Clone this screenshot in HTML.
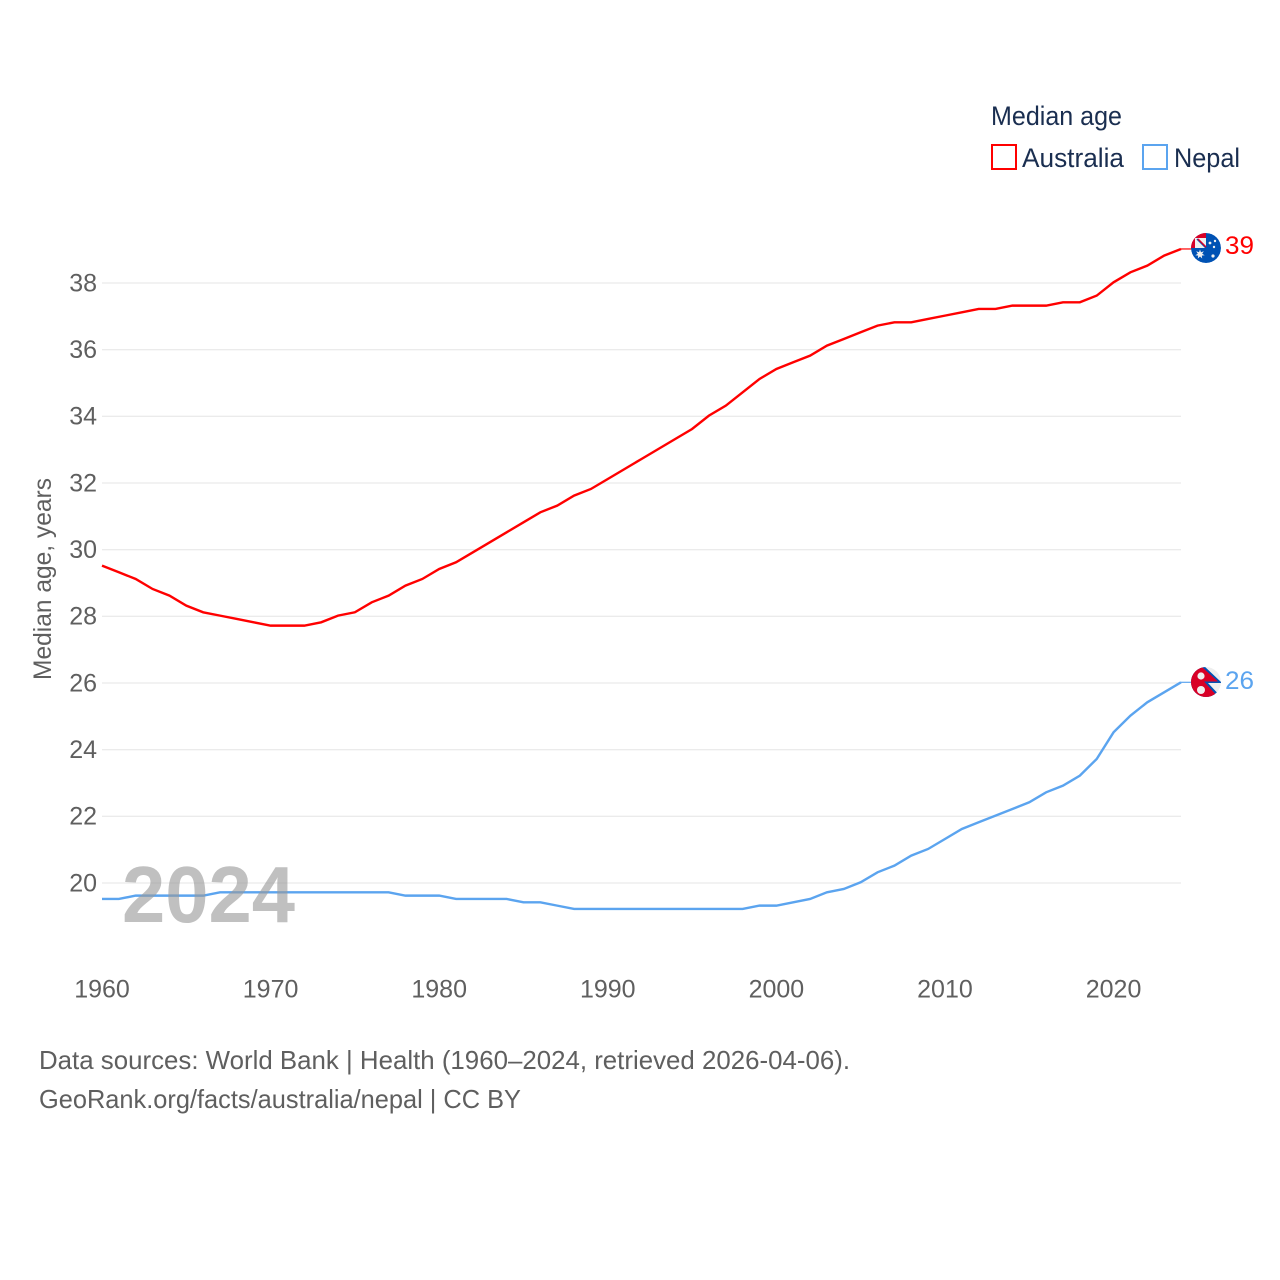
<!DOCTYPE html>
<html lang="en">
<head>
<meta charset="utf-8">
<title>Median age: Australia and Nepal</title>
<style>
html,body{margin:0;padding:0;background:#fff;width:1280px;height:1280px;overflow:hidden}
svg{display:block}
text{font-family:"Liberation Sans",sans-serif}
</style>
</head>
<body>
<svg id="chart" width="1280" height="1280" viewBox="0 0 1280 1280" xmlns="http://www.w3.org/2000/svg">
<defs>
<clipPath id="flag-clip-au"><circle cx="1206" cy="248" r="15"/></clipPath>
<clipPath id="flag-clip-np"><circle cx="1206" cy="682" r="15"/></clipPath>
</defs>
<rect width="1280" height="1280" fill="#fff"/>
<g id="grid"></g>
<g id="yticks"></g>
<g id="xticks"></g>
<text transform="translate(51,680) rotate(-90)" font-size="25" fill="#5f5f5f" textLength="202" lengthAdjust="spacingAndGlyphs">Median age, years</text>
<g id="series" transform="translate(0,-0.7)"></g>
<text x="122" y="922" font-size="80" font-weight="700" fill="#999" fill-opacity="0.62" textLength="173" lengthAdjust="spacingAndGlyphs">2024</text>

<g>
<text x="991" y="125" font-size="27" fill="#1a2e50" textLength="131" lengthAdjust="spacingAndGlyphs">Median age</text>
<rect x="992" y="145" width="24" height="24" fill="none" stroke="#ff0000" stroke-width="2"/>
<text x="1022" y="167" font-size="27" fill="#1a2e50" textLength="102" lengthAdjust="spacingAndGlyphs">Australia</text>
<rect x="1143" y="145" width="24" height="24" fill="none" stroke="#5ba4ef" stroke-width="2"/>
<text x="1174" y="167" font-size="27" fill="#1a2e50" textLength="66" lengthAdjust="spacingAndGlyphs">Nepal</text>
</g>

<g clip-path="url(#flag-clip-au)">
<circle cx="1206" cy="248" r="15" fill="#0052b4"/>
<rect x="1191" y="233" width="15" height="15" fill="#d80027"/>
<rect x="1195" y="238" width="11" height="10" fill="#f0f0f0"/>
<path d="M1197 239L1206 248" stroke="#0052b4" stroke-width="1.5"/>
<path d="M1198 239L1206 247" stroke="#d80027" stroke-width="1.5"/>
<path d="M1200 246.5l1 2.7 2.8-.9-1.6 2.5 2.5 1.5-2.9.3.4 2.9-2.2-2-2.2 2 .4-2.9-2.9-.3 2.5-1.5-1.6-2.5 2.8.9z" fill="#f0f0f0" transform="translate(0,3)"/>
<circle cx="1210" cy="243" r="1.4" fill="#f0f0f0"/>
<circle cx="1215" cy="241" r="1.2" fill="#f0f0f0"/>
<circle cx="1214" cy="247" r="1.2" fill="#f0f0f0"/>
<circle cx="1213" cy="256" r="1.6" fill="#f0f0f0"/>
</g>
<g clip-path="url(#flag-clip-np)">
<circle cx="1206" cy="682" r="15" fill="#eeeeee"/>
<path d="M1203 665L1222 683L1208 683L1223 699L1188 699L1188 665Z" fill="#0052b4"/>
<path d="M1202 667L1218 681.5L1204 681.5L1219 698L1188 698L1188 667Z" fill="#d80027"/>
<circle cx="1201" cy="676" r="3.6" fill="#f0f0f0"/>
<circle cx="1201" cy="690" r="4" fill="#f0f0f0"/>
</g>

<text x="1225" y="254" font-size="25" fill="#ff0000" textLength="29" lengthAdjust="spacingAndGlyphs">39</text>
<text x="1225" y="689" font-size="25" fill="#5ba4ef" textLength="29" lengthAdjust="spacingAndGlyphs">26</text>

<text x="39" y="1069" font-size="26" fill="#5f5f5f" textLength="811" lengthAdjust="spacingAndGlyphs">Data sources: World Bank | Health (1960–2024, retrieved 2026-04-06).</text>
<text x="39" y="1108" font-size="26" fill="#5f5f5f" textLength="482" lengthAdjust="spacingAndGlyphs">GeoRank.org/facts/australia/nepal | CC BY</text>
</svg>
<script>
const years = [1960,1961,1962,1963,1964,1965,1966,1967,1968,1969,1970,1971,1972,1973,1974,1975,1976,1977,1978,1979,1980,1981,1982,1983,1984,1985,1986,1987,1988,1989,1990,1991,1992,1993,1994,1995,1996,1997,1998,1999,2000,2001,2002,2003,2004,2005,2006,2007,2008,2009,2010,2011,2012,2013,2014,2015,2016,2017,2018,2019,2020,2021,2022,2023,2024];
const australia = [29.5,29.3,29.1,28.8,28.6,28.3,28.1,28.0,27.9,27.8,27.7,27.7,27.7,27.8,28.0,28.1,28.4,28.6,28.9,29.1,29.4,29.6,29.9,30.2,30.5,30.8,31.1,31.3,31.6,31.8,32.1,32.4,32.7,33.0,33.3,33.6,34.0,34.3,34.7,35.1,35.4,35.6,35.8,36.1,36.3,36.5,36.7,36.8,36.8,36.9,37.0,37.1,37.2,37.2,37.3,37.3,37.3,37.4,37.4,37.6,38.0,38.3,38.5,38.8,39.0];
const nepal = [19.5,19.5,19.6,19.6,19.6,19.6,19.6,19.7,19.7,19.7,19.7,19.7,19.7,19.7,19.7,19.7,19.7,19.7,19.6,19.6,19.6,19.5,19.5,19.5,19.5,19.4,19.4,19.3,19.2,19.2,19.2,19.2,19.2,19.2,19.2,19.2,19.2,19.2,19.2,19.3,19.3,19.4,19.5,19.7,19.8,20.0,20.3,20.5,20.8,21.0,21.3,21.6,21.8,22.0,22.2,22.4,22.7,22.9,23.2,23.7,24.5,25.0,25.4,25.7,26.0];
const yTickLabels = [20,22,24,26,28,30,32,34,36,38];
const xTickLabels = [1960,1970,1980,1990,2000,2010,2020];

function xScale(year){ return 102 + (year - 1960) * (1181 - 102) / 64; }
function yScale(value){ return 883 - (value - 20) * (883 - 283) / 18; }

const NS = 'http://www.w3.org/2000/svg';
const gridGroup = document.getElementById('grid');
const yGroup = document.getElementById('yticks');
const xGroup = document.getElementById('xticks');
const seriesGroup = document.getElementById('series');

yTickLabels.forEach(function(v){
  const line = document.createElementNS(NS,'line');
  
  
  line.setAttribute('x1', 102);
  line.setAttribute('x2', 1181);
  line.setAttribute('y1', yScale(v));
  line.setAttribute('y2', yScale(v));
  line.setAttribute('stroke', '#ebebeb');
  line.setAttribute('stroke-width', '1.3');
  gridGroup.appendChild(line);
  const t = document.createElementNS(NS,'text');
  
  
  t.setAttribute('x', 97);
  t.setAttribute('y', yScale(v) + 8.3);
  t.setAttribute('text-anchor', 'end');
  t.setAttribute('font-size', '25');
  t.setAttribute('fill', '#5f5f5f');
  t.textContent = v;
  yGroup.appendChild(t);
});

xTickLabels.forEach(function(y){
  const t = document.createElementNS(NS,'text');
  
  
  t.setAttribute('x', xScale(y));
  t.setAttribute('y', 997.5);
  t.setAttribute('text-anchor', 'middle');
  t.setAttribute('font-size', '25');
  t.setAttribute('fill', '#5f5f5f');
  t.textContent = y;
  xGroup.appendChild(t);
});

function linePoints(values){
  return values.map(function(v,i){ return xScale(years[i]).toFixed(2) + ',' + yScale(v).toFixed(2); }).join(' ');
}

const australiaLine = document.createElementNS(NS,'polyline');


australiaLine.setAttribute('points', linePoints(australia));
australiaLine.setAttribute('fill', 'none');
australiaLine.setAttribute('stroke', '#ff0000');
australiaLine.setAttribute('stroke-width', '2.4');
seriesGroup.appendChild(australiaLine);

const nepalLine = document.createElementNS(NS,'polyline');


nepalLine.setAttribute('points', linePoints(nepal));
nepalLine.setAttribute('fill', 'none');
nepalLine.setAttribute('stroke', '#5ba4ef');
nepalLine.setAttribute('stroke-width', '2.4');
seriesGroup.appendChild(nepalLine);

const australiaLead = document.createElementNS(NS,'line');


australiaLead.setAttribute('x1', xScale(2024));
australiaLead.setAttribute('x2', 1192);
australiaLead.setAttribute('y1', yScale(australia[australia.length - 1]));
australiaLead.setAttribute('y2', yScale(australia[australia.length - 1]));
australiaLead.setAttribute('stroke', '#ff0000');
australiaLead.setAttribute('stroke-width', '1.2');
seriesGroup.appendChild(australiaLead);

const nepalLead = document.createElementNS(NS,'line');


nepalLead.setAttribute('x1', xScale(2024));
nepalLead.setAttribute('x2', 1192);
nepalLead.setAttribute('y1', yScale(nepal[nepal.length - 1]));
nepalLead.setAttribute('y2', yScale(nepal[nepal.length - 1]));
nepalLead.setAttribute('stroke', '#5ba4ef');
nepalLead.setAttribute('stroke-width', '1.2');
seriesGroup.appendChild(nepalLead);
</script>
</body>
</html>
